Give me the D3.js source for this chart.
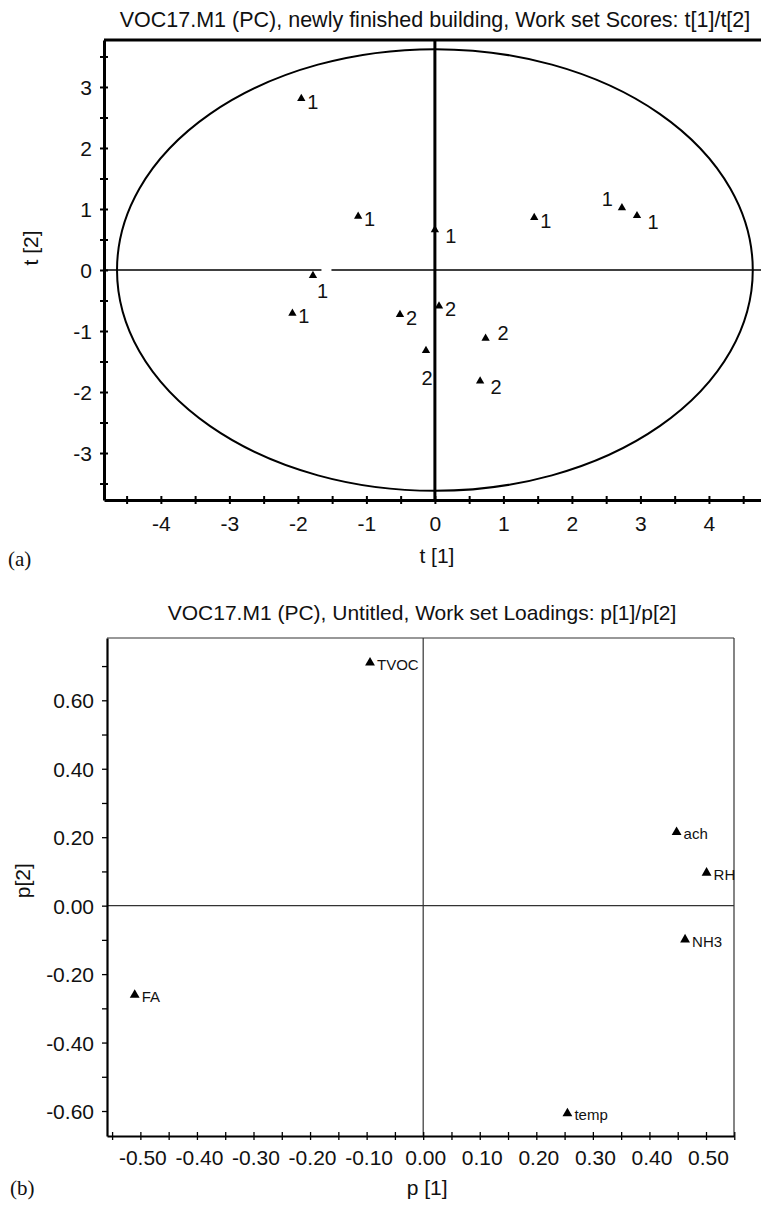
<!DOCTYPE html>
<html><head><meta charset="utf-8">
<script src="https://cdn.jsdelivr.net/npm/d3@7"></script>
<style>
body{margin:0;background:#fff}
svg{display:block}
text{font-family:"Liberation Sans",Arial,Helvetica,sans-serif;fill:#111}
</style>
</head><body>
<svg id="chart" width="761" height="1205"></svg>
<script>
// ---------- (a) Scores t[1]/t[2] ----------
const scoreTitle = "VOC17.M1 (PC), newly finished building, Work set Scores: t[1]/t[2]";
const scoreT1 = [-1.95, -1.12, -1.78, 0.00, 1.45, 2.73, 2.95, -2.08, -0.51, 0.06, 0.74, -0.13, 0.66];
const scoreT2 = [ 2.81,  0.88, -0.09, 0.66, 0.86, 1.02, 0.89, -0.71, -0.73, -0.59, -1.12, -1.32, -1.82];
const scoreClass = ["1","1","1","1","1","1","1","1","2","2","2","2","2"];
const scoreLabelPlace = ["r","r","br","rb","r","ul","rb","r","r","r","ru","b","rb"];
const scoreXMajor = [-4, -3, -2, -1, 0, 1, 2, 3, 4];
const scoreXMinor = [-4.5, -3.5, -2.5, -1.5, -0.5, 0.5, 1.5, 2.5, 3.5, 4.5];
const scoreYMajor = [-3, -2, -1, 0, 1, 2, 3];
const scoreYMinor = [-3.5, -2.5, -1.5, -0.5, 0.5, 1.5, 2.5, 3.5];
const scoreEllipseRadii = [4.64, 3.62];   // Hotelling T2 ellipse (t1, t2)

// ---------- (b) Loadings p[1]/p[2] ----------
const loadTitle = "VOC17.M1 (PC), Untitled, Work set Loadings: p[1]/p[2]";
const loadNames = ["TVOC", "ach", "RH", "NH3", "temp", "FA"];
const loadP1 = [-0.094, 0.448, 0.501, 0.463, 0.255, -0.510];
const loadP2 = [ 0.710, 0.215, 0.096, -0.099, -0.607, -0.261];
const loadXMajor = [-0.5, -0.4, -0.3, -0.2, -0.1, 0, 0.1, 0.2, 0.3, 0.4, 0.5];
const loadXMinor = [-0.55, -0.45, -0.35, -0.25, -0.15, -0.05, 0.05, 0.15, 0.25, 0.35, 0.45, 0.55];
const loadYMajor = [-0.6, -0.4, -0.2, 0, 0.2, 0.4, 0.6];
const loadYMinor = [-0.5, -0.3, -0.1, 0.1, 0.3, 0.5, 0.7];

const svg = d3.select("#chart");
const FS = "21px";

function fmtInt(d){ return String(d); }           // hyphen minus like the original
function fmt2(d){ return (d < 0 ? "-" : "") + Math.abs(d).toFixed(2); }

// =================== Chart (a) ===================
(function(){
  const L = 104, R = 761, T = 40, B = 500;
  const x = d3.scaleLinear().domain([-4.83, 4.76]).range([L, R]);
  const y = d3.scaleLinear().domain([-3.77, 3.77]).range([B, T]);
  const g = svg.append("g");

  g.append("text").attr("x", 435).attr("y", 27).attr("text-anchor", "middle")
    .style("font-size", "21.5px").text(scoreTitle);

  // ellipse
  g.append("ellipse")
    .attr("cx", x(0)).attr("cy", y(0))
    .attr("rx", x(scoreEllipseRadii[0]) - x(0))
    .attr("ry", y(0) - y(scoreEllipseRadii[1]))
    .attr("fill", "none").attr("stroke", "#000").attr("stroke-width", 2);

  // zero lines
  g.append("line").attr("x1", L).attr("x2", R).attr("y1", y(0)).attr("y2", y(0))
    .attr("stroke", "#000").attr("stroke-width", 1.3);
  g.append("line").attr("x1", x(0)).attr("x2", x(0)).attr("y1", T).attr("y2", B)
    .attr("stroke", "#000").attr("stroke-width", 3);

  // top frame line
  g.append("line").attr("x1", L).attr("x2", R).attr("y1", T).attr("y2", T)
    .attr("stroke", "#000").attr("stroke-width", 3);

  // axes
  const yAxis = d3.axisLeft(y)
    .tickValues(scoreYMajor.concat(scoreYMinor))
    .tickFormat(d => scoreYMajor.includes(d) ? fmtInt(d) : "")
    .tickSizeInner(4).tickSizeOuter(0).tickPadding(8);
  const ya = g.append("g").attr("transform", `translate(${L},0)`).call(yAxis);
  ya.select(".domain").attr("stroke-width", 3);
  ya.selectAll(".tick line").attr("x1", 4).attr("stroke-width", 2);
  ya.selectAll(".tick text").style("font-size", FS).attr("font-family", null).attr("dy", "0.36em");

  const xAxis = d3.axisBottom(x)
    .tickValues(scoreXMajor.concat(scoreXMinor))
    .tickFormat(d => scoreXMajor.includes(d) ? fmtInt(d) : "")
    .tickSizeInner(4).tickSizeOuter(0).tickPadding(12);
  const xa = g.append("g").attr("transform", `translate(0,${B})`).call(xAxis);
  xa.select(".domain").attr("stroke-width", 3);
  xa.selectAll(".tick line").attr("y1", -4).attr("stroke-width", 2);
  xa.selectAll(".tick text").style("font-size", FS).attr("font-family", null);

  // gap in the zero line next to the class-1 point lying on the axis
  const gi = 2;
  g.append("rect").attr("x", x(scoreT1[gi]) + 8.5).attr("y", y(0) - 2)
    .attr("width", 10).attr("height", 4).attr("fill", "#fff");

  // axis titles
  g.append("text").attr("transform", `translate(38,${y(0) - 22}) rotate(-90)`)
    .attr("text-anchor", "middle").style("font-size", FS).text("t [2]");
  g.append("text").attr("x", x(0) + 2).attr("y", 563).attr("text-anchor", "middle")
    .style("font-size", FS).text("t [1]");
  g.append("text").attr("x", 8).attr("y", 566)
    .style("font-family", "'Liberation Serif','Times New Roman',serif").style("font-size", "21px").text("(a)");

  // points
  const tri = d3.symbol().type(d3.symbolTriangle).size(30);
  const off = {r:[11.5,3], br:[9.5,15.5], rb:[16,6], ul:[-14.5,-8.5], ru:[17.5,-5.5], b:[1,27]};
  scoreT1.forEach((v, i) => {
    const px = x(v), py = y(scoreT2[i]);
    g.append("path").attr("d", tri).attr("transform", `translate(${px},${py})`).attr("fill", "#000");
    const o = off[scoreLabelPlace[i]];
    g.append("text").attr("x", px + o[0]).attr("y", py + o[1]).attr("dy", "0.35em")
      .attr("text-anchor", "middle").style("font-size", "20px").text(scoreClass[i]);
  });
})();

// =================== Chart (b) ===================
(function(){
  const L = 107, R = 734, T = 638, B = 1136;
  const x = d3.scaleLinear().domain([-0.559, 0.5495]).range([L, R]);
  const y = d3.scaleLinear().domain([-0.673, 0.782]).range([B, T]);
  const g = svg.append("g");

  g.append("text").attr("x", 422).attr("y", 620).attr("text-anchor", "middle")
    .style("font-size", "21px").text(loadTitle);

  // frame top/right
  g.append("line").attr("x1", L).attr("x2", R).attr("y1", T).attr("y2", T)
    .attr("stroke", "#333").attr("stroke-width", 1.2);
  g.append("line").attr("x1", R).attr("x2", R).attr("y1", T).attr("y2", B)
    .attr("stroke", "#333").attr("stroke-width", 1.2);

  // zero lines
  g.append("line").attr("x1", L).attr("x2", R).attr("y1", y(0)).attr("y2", y(0))
    .attr("stroke", "#333").attr("stroke-width", 1.2);
  g.append("line").attr("x1", x(0)).attr("x2", x(0)).attr("y1", T).attr("y2", B)
    .attr("stroke", "#333").attr("stroke-width", 1.2);

  const yAxis = d3.axisLeft(y)
    .tickValues(loadYMajor.concat(loadYMinor))
    .tickFormat(d => loadYMajor.includes(d) ? fmt2(d) : "")
    .tickSizeInner(5).tickSizeOuter(0).tickPadding(8);
  const ya = g.append("g").attr("transform", `translate(${L},0)`).call(yAxis);
  ya.select(".domain").attr("stroke-width", 2.2);
  ya.selectAll(".tick line").attr("stroke-width", 1.3);
  ya.selectAll(".tick text").style("font-size", FS).attr("font-family", null).attr("dy", "0.36em");

  const xAxis = d3.axisBottom(x)
    .tickValues(loadXMajor.concat(loadXMinor))
    .tickFormat(d => loadXMajor.includes(d) ? fmt2(d) : "")
    .tickSizeInner(4).tickSizeOuter(0).tickPadding(10);
  const xa = g.append("g").attr("transform", `translate(0,${B})`).call(xAxis);
  xa.select(".domain").attr("stroke-width", 2.2);
  xa.selectAll(".tick line").attr("y1", -4).attr("stroke-width", 1.3);
  xa.selectAll(".tick text").style("font-size", FS).attr("font-family", null).attr("dx", "2");

  g.append("text").attr("transform", `translate(30,${y(0) - 25}) rotate(-90)`)
    .attr("text-anchor", "middle").style("font-size", FS).text("p[2]");
  g.append("text").attr("x", x(0) + 4).attr("y", 1195).attr("text-anchor", "middle")
    .style("font-size", FS).text("p [1]");
  g.append("text").attr("x", 10).attr("y", 1195)
    .style("font-family", "'Liberation Serif','Times New Roman',serif").style("font-size", "21px").text("(b)");

  const tri = d3.symbol().type(d3.symbolTriangle).size(42);
  loadP1.forEach((v, i) => {
    const px = x(v), py = y(loadP2[i]);
    g.append("path").attr("d", tri).attr("transform", `translate(${px},${py})`).attr("fill", "#000");
    g.append("text").attr("x", px + 7).attr("y", py + 7)
      .style("font-size", "15px").text(loadNames[i]);
  });
})();
</script>
</body></html>
